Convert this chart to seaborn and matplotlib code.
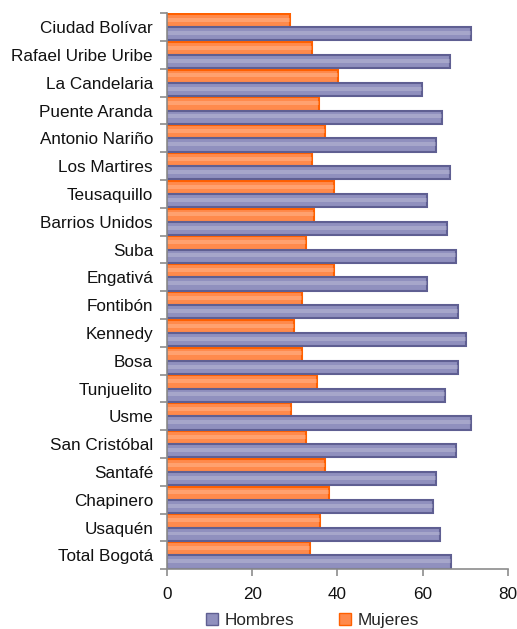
import matplotlib
matplotlib.use("Agg")
import matplotlib.pyplot as plt
import seaborn as sns
import pandas as pd
import numpy as np
from matplotlib.patches import Patch

localidades = ["Ciudad Bolívar", "Rafael Uribe Uribe", "La Candelaria", "Puente Aranda",
               "Antonio Nariño", "Los Martires", "Teusaquillo", "Barrios Unidos", "Suba",
               "Engativá", "Fontibón", "Kennedy", "Bosa", "Tunjuelito", "Usme",
               "San Cristóbal", "Santafé", "Chapinero", "Usaquén", "Total Bogotá"]
hombres = [71.4, 66.3, 59.9, 64.6, 63.0, 66.3, 61.0, 65.7, 67.7, 61.0,
           68.3, 70.2, 68.3, 65.3, 71.3, 67.7, 63.0, 62.5, 64.1, 66.7]
mujeres = [28.8, 34.0, 40.2, 35.6, 37.1, 34.0, 39.2, 34.5, 32.6, 39.2,
           31.7, 29.8, 31.7, 35.3, 29.0, 32.7, 37.1, 38.1, 35.8, 33.6]
xticks = [0, 20, 40, 60, 80]

df = pd.DataFrame({
    "Localidad": localidades * 2,
    "Valor": mujeres + hombres,
    "Sexo": ["Mujeres"] * len(localidades) + ["Hombres"] * len(localidades),
})

sns.set_style("white")
plt.rcParams["font.family"] = ["Liberation Sans", "DejaVu Sans"]

fill = {"Hombres": "#9090be", "Mujeres": "#ff8a4c"}
edge = {"Hombres": "#5f5f92", "Mujeres": "#ff6000"}

fig = plt.figure(figsize=(5.17, 6.29), dpi=100)
ax = fig.add_axes([0.323, 0.095, 0.6596, 0.884])
sns.barplot(data=df, y="Localidad", x="Valor", hue="Sexo", order=localidades,
            hue_order=["Mujeres", "Hombres"], palette=fill, width=0.95,
            orient="h", ax=ax, legend=False, saturation=1)

for cont, name in zip(ax.containers, ["Mujeres", "Hombres"]):
    for p in cont:
        p.set_edgecolor(edge[name])
        p.set_linewidth(1.5)
        x0, y0 = p.get_x(), p.get_y()
        w, h = p.get_width(), p.get_height()
        ax.add_patch(plt.Rectangle((x0, y0 + h * 0.3), w, h * 0.3,
                                   facecolor="white", alpha=0.2, linewidth=0))

ax.set_xlim(0, 80)
ax.set_xticks(xticks)
ax.set_xlabel("")
ax.set_ylabel("")
ax.set_ylim(len(localidades) - 0.5, -0.5)

sns.despine(ax=ax, top=True, right=True)
for s in ["left", "bottom"]:
    ax.spines[s].set_color("#8c8c8c")
    ax.spines[s].set_linewidth(1.2)

ax.set_yticks(np.arange(-0.5, len(localidades), 1.0), minor=True)
ax.tick_params(axis="y", which="minor", length=5, width=1.2, color="#8c8c8c", left=True)
ax.tick_params(axis="y", which="major", length=0, pad=10, labelsize=12.3, labelcolor="#111111")
ax.tick_params(axis="x", which="major", length=5, width=1.2, color="#8c8c8c", bottom=True,
               direction="out", pad=8, labelsize=12.3, labelcolor="#111111")

handles = [Patch(facecolor=fill["Hombres"], edgecolor=edge["Hombres"], label="Hombres"),
           Patch(facecolor=fill["Mujeres"], edgecolor=edge["Mujeres"], label="Mujeres")]
fig.legend(handles=handles, loc="center", bbox_to_anchor=(0.605, 0.014), ncol=2,
           frameon=False, fontsize=12.3, handlelength=0.7, handleheight=0.7,
           handletextpad=0.4, columnspacing=2.6)

fig.savefig("out.png", dpi=100)
